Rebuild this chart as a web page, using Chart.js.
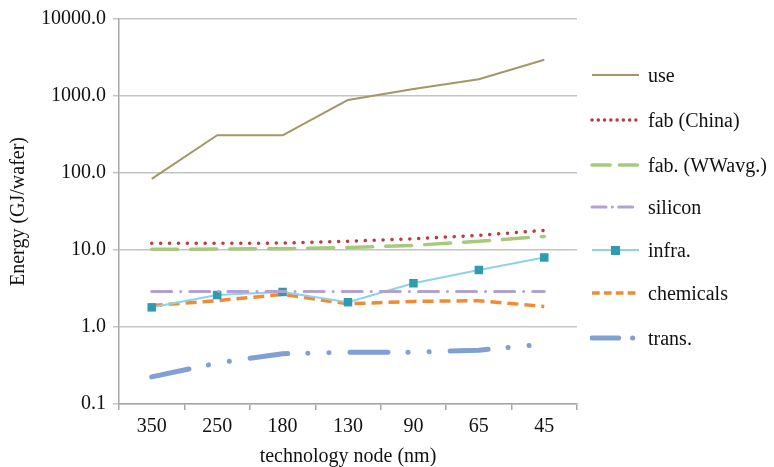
<!DOCTYPE html>
<html>
<head>
<meta charset="utf-8">
<script src="https://cdn.jsdelivr.net/npm/chart.js@4/dist/chart.umd.min.js"></script>
<style>
  body { margin: 0; background: #fff; }
  #wrap { position: relative; width: 774px; height: 467px; }
  #legend { position: absolute; left: 590px; top: 0; font-family: "Liberation Serif", serif; font-size: 20px; color: #111; }
  .item { position: absolute; left: 0; height: 24px; white-space: nowrap; display: flex; align-items: center; }
  .item svg { margin-right: 7px; }
</style>
</head>
<body>
<div id="wrap">
  <canvas id="grafico" width="774" height="467"></canvas>
  <div id="legend"></div>
</div>
<script>
// datos
const nodos = ['350', '250', '180', '130', '90', '65', '45'];
const useData = [84, 309, 309, 890, 1230, 1650, 2950];
const fabChina = [12.2, 12.2, 12.3, 13, 14, 15.5, 18];
const fabWW = [10.2, 10.3, 10.4, 10.8, 11.5, 13, 15];
const silicon = [2.9, 2.9, 2.9, 2.9, 2.9, 2.9, 2.9];
const infra = [1.8, 2.6, 2.85, 2.1, 3.7, 5.5, 8.0];
const chemicals = [1.9, 2.2, 2.65, 2.0, 2.15, 2.2, 1.85];
const trans = [0.225, 0.34, 0.45, 0.47, 0.47, 0.5, 0.6];
const yTicks = [0.1, 1, 10, 100, 1000, 10000];

const series = [
    { label: 'use', data: useData, color: '#a39766', width: 2, dash: [], cap: 'butt' },
    { label: 'fab (China)', data: fabChina, color: '#c0393b', width: 3.5, dash: [0.1, 8.8], cap: 'round' },
    { label: 'fab. (WWavg.)', data: fabWW, color: '#a7c97e', width: 3.5, dash: [26, 13], cap: 'round' },
    { label: 'silicon', data: silicon, color: '#b3a2d0', width: 3, dash: [20, 9, 0.1, 9], cap: 'round' },
    { label: 'infra.', data: infra, color: '#8dd3e6', width: 2, dash: [], cap: 'butt', marker: '#2e9bb0' },
    { label: 'chemicals', data: chemicals, color: '#f08a35', width: 3.5, dash: [11, 6], cap: 'butt' },
    { label: 'trans.', data: trans, color: '#809fd4', width: 5, dash: [38, 20, 0.1, 21, 0.1, 21], cap: 'round' }
];

const datasets = series.map(s => ({
    label: s.label,
    data: s.data,
    borderColor: s.color,
    borderWidth: s.width,
    borderDash: s.dash,
    borderCapStyle: s.cap,
    borderJoinStyle: 'round',
    fill: false,
    tension: 0,
    pointStyle: 'rect',
    pointRadius: s.marker ? 6 : 0,
    pointBackgroundColor: s.marker || s.color,
    pointBorderColor: s.marker || s.color,
    pointBorderWidth: 0
}));

const fuente = { family: '"Liberation Serif", serif', size: 20 };

new Chart(document.getElementById('grafico').getContext('2d'), {
    type: 'line',
    data: { labels: nodos, datasets: datasets },
    options: {
        responsive: false,
        animation: false,
        layout: { padding: { top: 7, right: 197, left: 3, bottom: 0 } },
        plugins: { legend: { display: false }, tooltip: { enabled: false } },
        scales: {
            x: {
                offset: true,
                grid: { offset: true, drawOnChartArea: false, color: '#a6a6a6', tickLength: 6, lineWidth: 1.5 },
                border: { color: '#a6a6a6', width: 1.5 },
                ticks: { font: fuente, color: '#111', padding: 5 },
                title: {
                    display: true, text: 'technology node (nm)', color: '#111',
                    font: { family: fuente.family, size: 20, lineHeight: 1 },
                    padding: { top: 4, bottom: 0 }
                },
                afterFit: s => { s.height = 63; }
            },
            y: {
                type: 'logarithmic',
                min: 0.1,
                max: 10000,
                afterBuildTicks: s => { s.ticks = yTicks.map(v => ({ value: v })); },
                grid: { color: '#c4c4c4', lineWidth: 1.5, tickLength: 6 },
                border: { color: '#a6a6a6', width: 1.5 },
                ticks: { font: fuente, color: '#111', padding: 7, callback: v => Number(v).toFixed(1) },
                title: { display: true, text: 'Energy (GJ/wafer)', font: fuente, color: '#111', padding: { bottom: 0 } },
                afterFit: s => { s.width = 116; }
            }
        }
    }
});

// leyenda en HTML
const legendY = [75, 120, 165, 207, 250, 293, 338];
const legend = document.getElementById('legend');
series.forEach((s, i) => {
    const div = document.createElement('div');
    div.className = 'item';
    div.style.top = (legendY[i] - 12) + 'px';
    let svg = '<svg width="51" height="14"><line x1="2" y1="7" x2="49" y2="7" stroke="' + s.color +
        '" stroke-width="' + s.width + '" stroke-linecap="' + s.cap + '" stroke-dasharray="' +
        (s.dash.length ? s.dash.map(d => Math.max(d * 0.7, 0.1)).join(',') : 'none') + '"/>';
    if (s.marker) svg += '<rect x="21" y="3" width="9" height="9" fill="' + s.marker + '"/>';
    svg += '</svg>';
    div.innerHTML = svg + '<span>' + s.label + '</span>';
    legend.appendChild(div);
});
</script>
</body>
</html>
